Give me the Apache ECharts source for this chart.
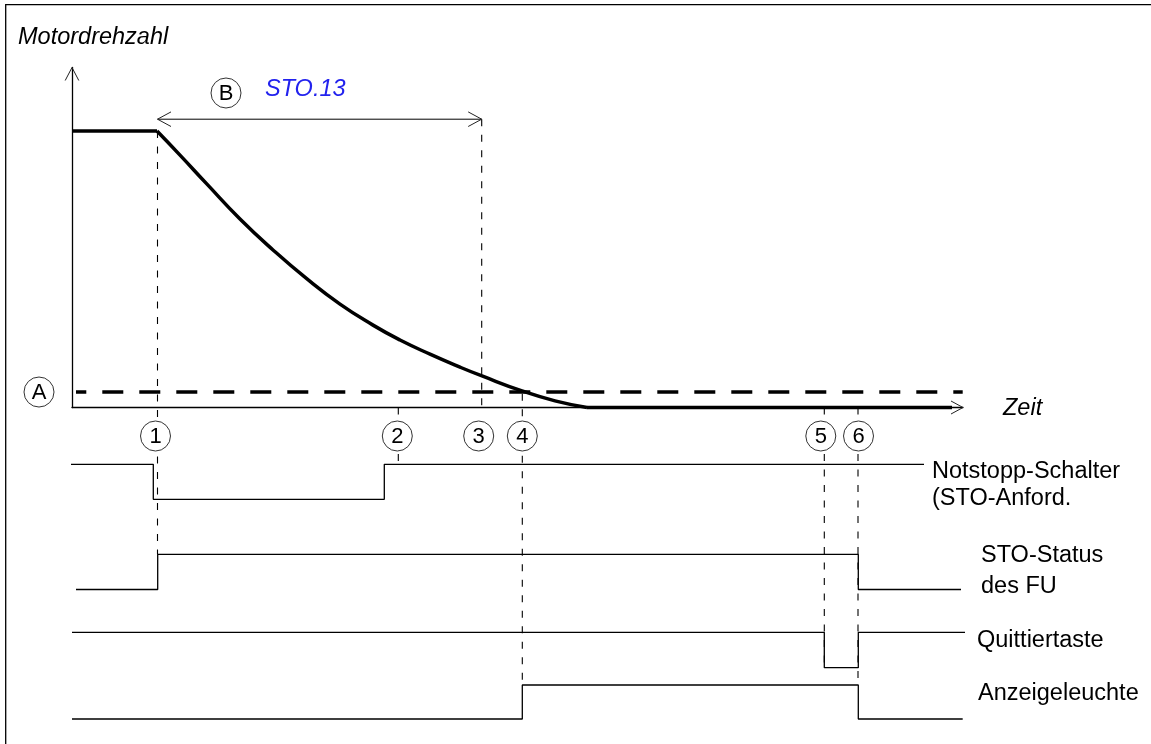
<!DOCTYPE html>
<html><head><meta charset="utf-8">
<script src="https://cdn.jsdelivr.net/npm/echarts@6/dist/echarts.min.js"></script>
<style>html,body{margin:0;padding:0;background:#fff}#c{width:1151px;height:744px}</style>
</head><body><div id="c"></div>
<script>
// ---------------- data ----------------
// time axis in ms-like units (0 = origin of the speed axis), speed in % of nominal
const eventLabels = ['1', '2', '3', '4', '5', '6'];
const eventTimes  = [85.5, 326.3, 409.7, 450.3, 752.3, 786];

const speedTimes  = [0, 85, 108, 135, 168, 201, 235, 268, 301, 328, 358, 388, 410, 450, 483, 515, 880];
const speedValues = [100, 100, 91.3, 80.8, 68.2, 57.0, 46.5, 37.4, 29.8, 24.4, 19.3, 14.6, 11.4, 6.0, 2.4, 0, 0];

const thresholdA = 5.6;            // zero-speed limit (A)
const thresholdSpan = [4, 890.7];
const stoWindowLabel = 'STO.13';   // (B) spans event 1 .. event 3

const signalNames = ['Notstopp-Schalter\n(STO-Anford.', 'STO-Status\ndes FU', 'Quittiertaste', 'Anzeigeleuchte'];
const notstoppTimes  = [-2, 81.3, 312.3, 852];
const notstoppLevels = [1, 0, 1, 1];
const stoStatusTimes  = [4, 85.7, 786.3, 889];
const stoStatusLevels = [0, 1, 0, 0];
const quittTimes  = [0, 752.3, 786.3, 893.7];
const quittLevels = [1, 0, 1, 1];
const anzeigeTimes  = [0, 450.3, 786.3, 890.7];
const anzeigeLevels = [0, 1, 0, 0];

const axisNames = ['Motordrehzahl', 'Zeit'];

// ---------------- chart ----------------
const chart = echarts.init(document.getElementById('c'), null, {renderer: 'canvas'});
const pts = (ts, vs) => ts.map((t, i) => [t, vs[i]]);
const XMAX = 891;
const SMAX = 123;

const gridBoxes = [
  {top: 67.5, bottom: 336.5},
  {top: 464.3, bottom: 244.7},
  {top: 554.3, bottom: 154.5},
  {top: 632.3, bottom: 76.3},
  {top: 685, bottom: 25}
];
const grids = gridBoxes.map(b => ({left: 72, right: 188, top: b.top, bottom: b.bottom, outerBoundsMode: 'none', containLabel: false}));
const xAxes = grids.map((g, i) => ({
  type: 'value', gridIndex: i, min: 0, max: XMAX, show: i === 0,
  axisLine: {show: true, onZero: true, lineStyle: {color: '#000', width: 1.3}},
  axisTick: {show: false}, axisLabel: {show: false}, splitLine: {show: false}
}));
const yAxes = grids.map((g, i) => ({
  type: 'value', gridIndex: i, min: 0, max: i === 0 ? SMAX : 1, show: i === 0,
  axisLine: {show: true, lineStyle: {color: '#000', width: 1.3}},
  axisTick: {show: false}, axisLabel: {show: false}, splitLine: {show: false}
}));

const thick = {color: '#000', width: 3.5, cap: 'butt', join: 'round'};
const thin = {color: '#000', width: 1.3};
const speedPts = pts(speedTimes, speedValues);
const zeroIdx = speedValues.indexOf(0);

const baseLine = {type: 'line', showSymbol: false, symbol: 'none', clip: false, silent: true, animation: false};
const series = [
  Object.assign({}, baseLine, {name: 'hold', data: speedPts.slice(0, 2), lineStyle: thick, z: 5}),
  Object.assign({}, baseLine, {name: 'decel', data: speedPts.slice(1, zeroIdx + 1), smooth: 0.5, lineStyle: thick, z: 5}),
  Object.assign({}, baseLine, {name: 'stop', data: speedPts.slice(zeroIdx), lineStyle: thick, z: 5}),
  Object.assign({}, baseLine, {name: 'A', data: [[thresholdSpan[0], thresholdA], [thresholdSpan[1], thresholdA]],
    lineStyle: {color: '#000', width: 3.5, type: [21, 16], dashOffset: 10.7, cap: 'butt'}, z: 4})
];
const sig = [[notstoppTimes, notstoppLevels], [stoStatusTimes, stoStatusLevels], [quittTimes, quittLevels], [anzeigeTimes, anzeigeLevels]];
sig.forEach((s, i) => {
  series.push(Object.assign({}, baseLine, {
    name: signalNames[i], xAxisIndex: i + 1, yAxisIndex: i + 1,
    data: pts(s[0], s[1]), step: 'end', lineStyle: thin, z: 3
  }));
});

chart.setOption({animation: false, backgroundColor: '#fff', grid: grids, xAxis: xAxes, yAxis: yAxes, series: series});

// ---------------- annotations ----------------
const px = (g, t, v) => chart.convertToPixel({gridIndex: g}, [t, v]);
const G = [];
const FONT = '"Liberation Sans", Arial, sans-serif';
function line(p1, p2, dash, w) {
  G.push({type: 'line', z: 1, silent: true, shape: {x1: p1[0], y1: p1[1], x2: p2[0], y2: p2[1]},
    style: {stroke: '#000', lineWidth: w || 1.1, lineDash: dash || null}});
}
function chevron(tip, dx, dy, horizontal, dir) {
  const p = horizontal
    ? [[tip[0] - dir * dx, tip[1] - dy], [tip[0], tip[1]], [tip[0] - dir * dx, tip[1] + dy]]
    : [[tip[0] - dy, tip[1] + dir * dx], [tip[0], tip[1]], [tip[0] + dy, tip[1] + dir * dx]];
  G.push({type: 'polyline', z: 6, silent: true, shape: {points: p}, style: {stroke: '#222', fill: null, lineWidth: 1}});
}
function txt(text, x, y, opt) {
  G.push({type: 'text', z: 12, silent: true, style: Object.assign({
    text: text, x: x, y: y, fill: '#000', font: '23.5px ' + FONT, align: 'left', verticalAlign: 'middle'
  }, opt || {})});
}
function circ(label, cx, cy) {
  G.push({type: 'circle', z: 10, silent: true, shape: {cx: cx, cy: cy, r: 15}, style: {fill: '#fff', stroke: '#333', lineWidth: 1}});
  txt(label, cx, cy + 1, {align: 'center', font: '22px ' + FONT});
}

// frame (top + left)
G.push({type: 'polyline', z: 1, silent: true, shape: {points: [[5.7, 744], [5.7, 4.7], [1151, 4.7]]}, style: {stroke: '#000', fill: null, lineWidth: 1.3}});

// axis arrow heads
chevron(px(0, 0, SMAX), 13, 6.8, false, 1);
chevron(px(0, XMAX, 0), 12, 6.5, true, 1);

// (B) STO.13 window arrow
const bLevel = 104.3;
const bL = px(0, eventTimes[0], bLevel), bR = px(0, eventTimes[2], bLevel);
line(bL, bR, null, 1);
chevron(bL, 13.5, 7.3, true, -1);
chevron(bR, 13.5, 7.3, true, 1);

// event dashed verticals
const D = [7, 8.5];
line(px(0, eventTimes[0], speedValues[1]), px(2, eventTimes[0], 1), D);
line(px(0, eventTimes[1], 0), px(1, eventTimes[1], 1), D);
line(px(0, eventTimes[2], bLevel), px(0, eventTimes[2], 0), D);
line(px(0, eventTimes[3], thresholdA - 0.6), px(4, eventTimes[3], 1), D);
line(px(0, eventTimes[4], 0), px(3, eventTimes[4], 0), D);
line(px(0, eventTimes[5], 0), px(4, eventTimes[5], 1), D);

// event circles
const circleRow = 436;
const nudge = [-2, -1, -3, 0, -3.5, 0.5];
eventTimes.forEach((t, i) => circ(eventLabels[i], px(0, t, 0)[0] + nudge[i], circleRow));
circ('A', 39, px(0, 0, thresholdA)[1]);
circ('B', 226, 93);

// texts
txt(axisNames[0], 18, 37, {font: 'italic 23.5px ' + FONT});
txt(axisNames[1], 1003, 408.5, {font: 'italic 23.5px ' + FONT});
txt(stoWindowLabel, 265, 89.5, {font: 'italic 23.5px ' + FONT, fill: '#2222ee'});
txt(signalNames[0], 932, 485, {lineHeight: 27});
txt(signalNames[1], 981, 571.5, {lineHeight: 31});
txt(signalNames[2], 977, 640.5);
txt(signalNames[3], 978, 693.5);

chart.setOption({graphic: {elements: G}});
</script>
</body></html>
